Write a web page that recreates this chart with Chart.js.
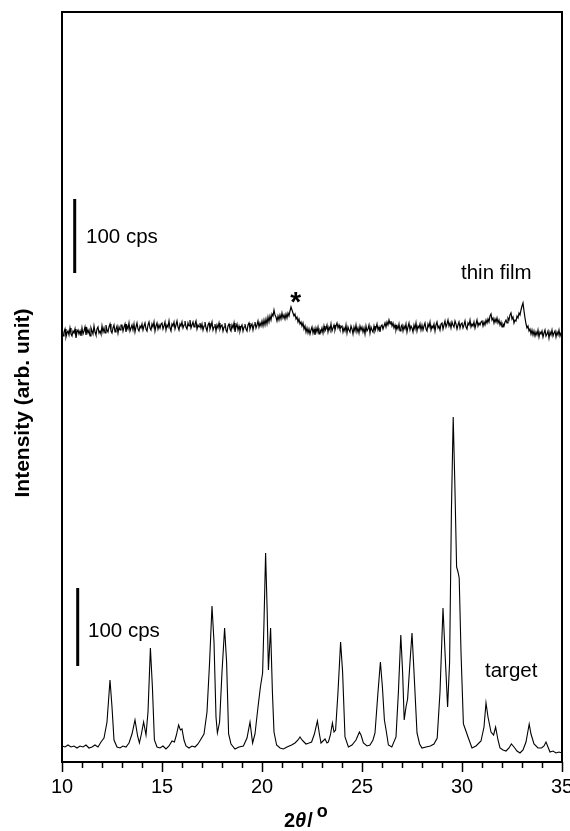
<!DOCTYPE html>
<html lang="en">
<head>
<meta charset="UTF-8">
<title>XRD patterns: thin film and target</title>
<script src="https://cdn.jsdelivr.net/npm/chart.js@4.4.1/dist/chart.umd.min.js"></script>
<style>
  html, body { margin: 0; padding: 0; background: #fff; }
  #wrap { width: 570px; height: 831px; }
</style>
</head>
<body>
<div id="wrap"><canvas id="xrd"></canvas></div>
<script>
const FONT = "'Liberation Sans', Arial, Helvetica, sans-serif";

// x axis ticks (degrees 2theta)
const xTicks = [10, 15, 20, 25, 30, 35];

// thin film scan, 10.00 .. 35.00 deg in 0.05 deg steps (arb. counts, offset); one row per degree
const filmStart = 10.0;
const filmStep = 0.05;
const filmCounts = [
  432,426,430,433,425,429,431,427,434,428,426,431,429,433,424,430,432,428,431,426,
  434,428,431,435,427,433,429,432,426,434,431,428,436,430,427,433,435,429,431,428,
  436,430,434,429,437,432,430,435,438,431,429,434,437,430,433,436,429,435,432,437,
  437,431,435,438,430,436,433,439,431,434,437,432,438,430,435,439,433,431,436,434,
  438,432,436,439,433,431,437,440,434,432,438,435,440,431,436,439,433,437,434,438,
  439,433,436,440,432,437,435,441,434,431,438,436,440,433,437,441,435,432,438,436,
  440,434,437,441,435,433,439,436,442,434,437,440,435,438,441,433,437,435,439,434,
  438,432,436,440,434,431,437,439,433,436,440,432,435,438,431,437,434,439,433,436,
  437,431,435,439,432,430,436,438,433,431,437,434,439,430,435,438,432,436,431,435,
  437,431,435,438,433,431,437,439,433,436,438,432,437,440,434,437,441,435,439,436,
  441,436,442,437,443,438,445,440,446,442,448,446,452,447,445,441,446,442,447,443,
  449,444,447,443,448,444,449,446,451,455,452,449,446,448,443,445,440,443,438,440,
  436,439,433,436,430,434,429,433,428,432,435,429,433,427,434,430,435,428,432,430,
  434,429,436,431,433,437,430,435,432,438,431,434,437,432,436,439,434,437,433,435,
  436,430,434,431,437,429,435,432,430,436,433,428,435,431,437,430,434,429,436,432,
  435,430,434,428,436,431,433,437,429,435,432,430,436,431,434,438,432,435,430,436,
  437,433,436,439,435,440,437,442,438,441,436,439,434,437,432,436,433,438,431,435,
  437,431,436,433,438,430,435,439,432,436,434,430,437,433,439,431,436,434,438,432,
  437,432,436,439,433,431,438,435,440,432,436,434,438,431,437,440,434,436,432,438,
  439,433,437,441,435,438,442,436,439,434,440,437,435,441,438,433,437,440,434,438,
  439,434,437,441,435,433,439,437,442,435,438,436,440,434,438,442,436,439,437,440,
  441,436,440,437,442,439,443,440,446,448,442,444,439,443,440,444,439,442,437,440,
  435,438,436,440,442,439,444,442,447,449,443,445,439,442,441,446,444,449,447,452,
  456,459,451,444,438,434,436,431,433,428,432,427,431,426,430,427,432,425,430,428,
  431,425,429,432,426,428,431,424,430,427,432,426,429,431,425,430,427,432,426,429,
  428
];

// target scan (angle, counts)
const targetAngle = [
  10.0,10.15,10.3,10.45,10.6,10.75,10.9,11.05,11.2,11.35,11.5,11.65,11.8,11.95,
  12.1,12.25,12.4,12.5,12.6,12.75,12.9,13.05,13.2,13.35,13.5,13.65,13.78,13.87,
  13.97,14.08,14.2,14.3,14.42,14.52,14.62,14.75,14.9,15.05,15.2,15.35,15.5,15.62,
  15.72,15.83,15.92,16.0,16.1,16.2,16.35,16.5,16.65,16.8,16.95,17.1,17.25,17.38,
  17.5,17.6,17.7,17.77,17.88,18.0,18.13,18.23,18.33,18.45,18.65,18.85,19.07,19.25,
  19.4,19.53,19.65,19.8,19.92,20.03,20.1,20.18,20.26,20.32,20.43,20.52,20.6,20.73,
  20.9,21.07,21.25,21.48,21.65,21.8,21.9,22.0,22.1,22.2,22.35,22.48,22.62,22.77,
  22.87,22.95,23.05,23.15,23.25,23.32,23.42,23.52,23.6,23.68,23.8,23.93,24.03,24.15,
  24.32,24.5,24.7,24.87,24.95,25.07,25.25,25.4,25.55,25.65,25.8,25.92,26.02,26.12,
  26.22,26.32,26.49,26.7,26.82,26.94,27.03,27.11,27.2,27.28,27.4,27.5,27.6,27.75,
  27.88,28.0,28.2,28.42,28.6,28.76,28.9,29.05,29.15,29.28,29.38,29.47,29.56,29.64,
  29.73,29.8,29.86,29.95,30.07,30.18,30.3,30.5,30.7,30.95,31.1,31.2,31.3,31.45,
  31.58,31.68,31.8,31.9,32.05,32.2,32.35,32.47,32.6,32.75,32.9,33.05,33.2,33.36,
  33.45,33.6,33.8,33.98,34.1,34.2,34.3,34.4,34.55,34.7,34.85,35.0
];
const targetCounts = [
  16,15,17,15,16,14,16,15,17,14,15,17,15,20,
  24,40,82,55,22,15,14,16,15,19,28,42,26,19,
  28,40,27,50,114,75,22,15,14,16,13,16,21,20,
  27,37,32,33,22,16,14,16,15,18,23,28,50,100,
  156,120,45,29,40,90,134,100,28,18,13,15,16,24,
  40,19,28,55,75,89,140,209,150,92,134,70,30,17,
  14,13,15,17,19,22,25,22,20,18,19,20,28,41,
  28,19,21,23,19,20,27,39,30,32,70,120,90,25,
  15,17,22,30,27,19,16,17,22,29,70,100,75,42,
  30,17,15,25,70,127,90,42,55,63,100,129,90,29,
  18,14,15,16,18,24,70,154,110,55,100,250,345,280,
  195,190,184,110,38,32,25,14,16,21,35,59,45,30,
  27,35,22,14,12,11,14,18,15,11,9,12,20,38,
  28,18,14,14,16,20,15,10,11,9,10,9
];

// "100 cps" scale bars (angle, counts from .. to)
const filmBarAngle = 10.635;
const filmBarCounts = [489, 563];
const targetBarAngle = 10.785;
const targetBarCounts = [96, 174];

// text labels placed in data coordinates
const labels = [
  { text: '100 cps', x: 11.2, y: 519 },
  { text: '100 cps', x: 11.3, y: 125.5 },
  { text: 'thin film', x: 29.95, y: 483 },
  { text: 'target', x: 31.15, y: 85 }
];
const starMark = { x: 21.68, y: 465 };

const filmData = filmCounts.map((c, i) => ({ x: filmStart + i * filmStep, y: c }));
const targetData = targetAngle.map((a, i) => ({ x: a, y: targetCounts[i] }));

const decorPlugin = {
  id: 'decor',
  afterDraw(chart) {
    const { ctx, chartArea: a, scales: { x, y } } = chart;
    ctx.save();
    // frame
    ctx.strokeStyle = '#000';
    ctx.lineWidth = 2;
    ctx.strokeRect(a.left, a.top, a.right - a.left, a.bottom - a.top);
    // minor ticks every degree
    ctx.lineWidth = 1.5;
    for (let v = 11; v < 35; v++) {
      if (v % 5 === 0) continue;
      const px = Math.round(x.getPixelForValue(v)) + 0.5;
      ctx.beginPath();
      ctx.moveTo(px, a.bottom);
      ctx.lineTo(px, a.bottom + 6);
      ctx.stroke();
    }
    // labels
    ctx.fillStyle = '#000';
    ctx.textBaseline = 'alphabetic';
    ctx.textAlign = 'left';
    ctx.font = '20.5px ' + FONT;
    labels.forEach(l => ctx.fillText(l.text, x.getPixelForValue(l.x), y.getPixelForValue(l.y)));
    // star
    ctx.font = 'bold 28px ' + FONT;
    const m = ctx.measureText('*');
    const sx = x.getPixelForValue(starMark.x);
    const sy = y.getPixelForValue(starMark.y);
    ctx.textAlign = 'center';
    ctx.fillText('*', sx, sy + (m.actualBoundingBoxAscent - m.actualBoundingBoxDescent) / 2);
    // y title
    ctx.save();
    ctx.translate(23, 403);
    ctx.rotate(-Math.PI / 2);
    ctx.font = 'bold 21px ' + FONT;
    ctx.textAlign = 'center';
    ctx.textBaseline = 'middle';
    ctx.fillText('Intensity (arb. unit)', 0, 0);
    ctx.restore();
    // x title: 2θ/ with superscript o
    ctx.textAlign = 'left';
    let cx = 284;
    const base = 827;
    ctx.font = 'bold 20px ' + FONT;
    ctx.fillText('2', cx, base); cx += ctx.measureText('2').width;
    ctx.font = 'italic bold 20px ' + FONT;
    ctx.fillText('θ', cx, base); cx += ctx.measureText('θ').width + 1;
    ctx.font = 'bold 20px ' + FONT;
    ctx.fillText('/', cx, base); cx += ctx.measureText('/').width + 4;
    ctx.font = 'bold 18px ' + FONT;
    ctx.fillText('o', cx, 817);
    ctx.restore();
  }
};

new Chart(document.getElementById('xrd'), {
  type: 'line',
  data: {
    datasets: [
      { label: 'thin film', data: filmData, borderColor: '#000', borderWidth: 1.2, pointRadius: 0, tension: 0 },
      { label: 'target', data: targetData, borderColor: '#000', borderWidth: 1.1, pointRadius: 0, tension: 0 },
      { label: 'bar film', data: filmBarCounts.map(c => ({ x: filmBarAngle, y: c })), borderColor: '#000', borderWidth: 3, pointRadius: 0 },
      { label: 'bar target', data: targetBarCounts.map(c => ({ x: targetBarAngle, y: c })), borderColor: '#000', borderWidth: 3, pointRadius: 0 }
    ]
  },
  options: {
    responsive: true,
    maintainAspectRatio: false,
    animation: false,
    layout: { padding: { top: 12, right: 8, left: 0, bottom: 0 } },
    plugins: { legend: { display: false }, tooltip: { enabled: false } },
    scales: {
      x: {
        type: 'linear',
        min: 10,
        max: 35,
        afterFit: s => { s.height = 69; s.paddingLeft = 0; s.paddingRight = 0; },
        afterBuildTicks: s => { s.ticks = xTicks.map(v => ({ value: v })); },
        border: { display: false },
        grid: { drawOnChartArea: false, drawTicks: true, tickLength: 10, tickWidth: 1.5, tickColor: '#000' },
        ticks: { color: '#000', padding: 3, font: { family: FONT, size: 20 }, maxRotation: 0 }
      },
      y: {
        min: 0,
        max: 750,
        afterFit: s => { s.width = 62; },
        border: { display: false },
        grid: { display: false },
        ticks: { display: false }
      }
    }
  },
  plugins: [decorPlugin]
});
</script>
</body>
</html>
